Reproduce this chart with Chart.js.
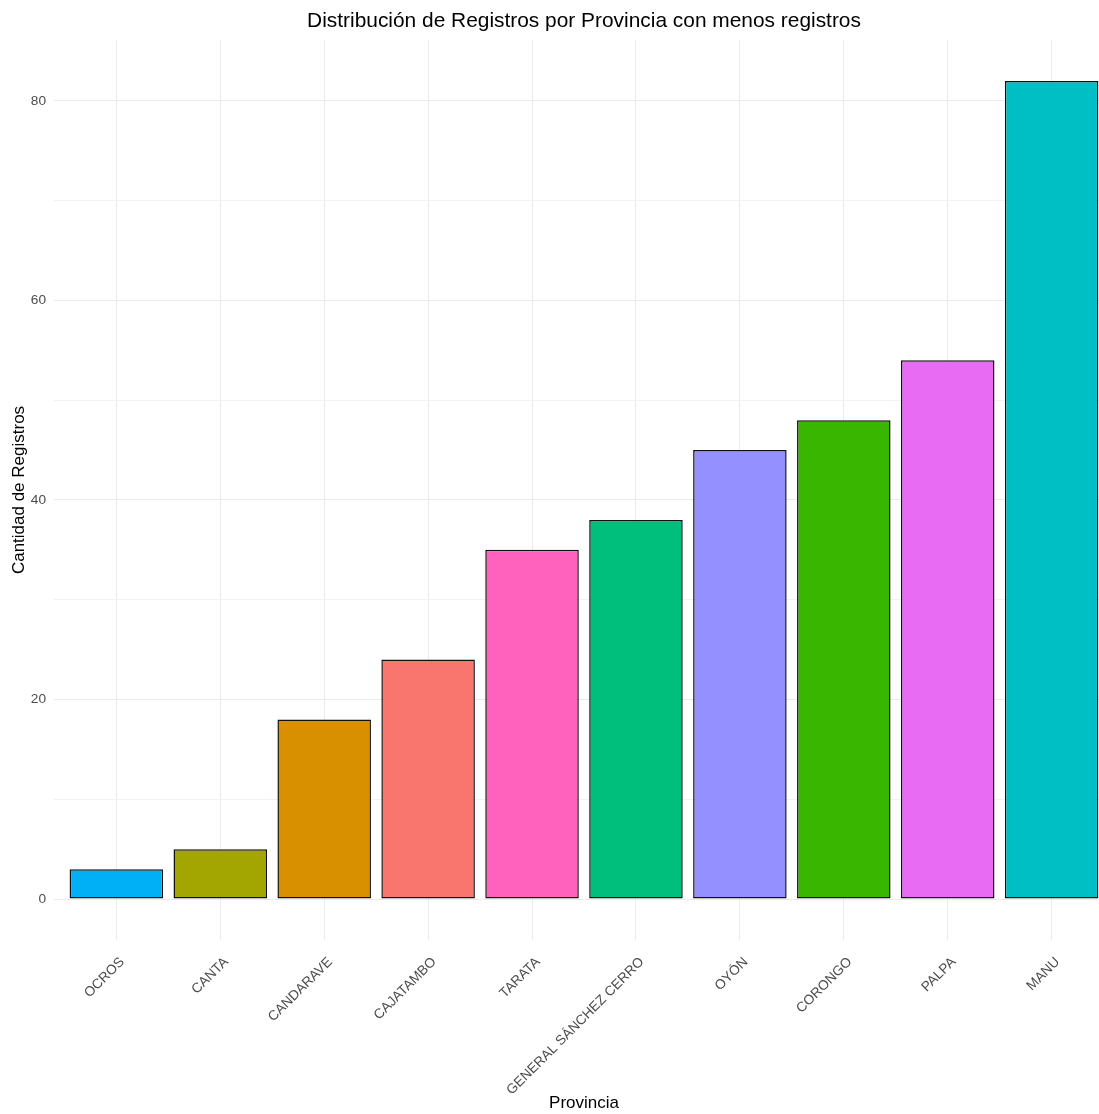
<!DOCTYPE html>
<html>
<head>
<meta charset="utf-8">
<script src="https://cdn.jsdelivr.net/npm/chart.js@4.4.1/dist/chart.umd.min.js"></script>
<style>
  html, body { margin: 0; padding: 0; background: #ffffff; overflow: hidden; }
  #wrap { width: 1114px; height: 1114px; }
</style>
</head>
<body>
<div id="wrap"><canvas id="c" width="1114" height="1114"></canvas></div>
<script>
const chartTitle = "Distribución de Registros por Provincia con menos registros";
const xTitle = "Provincia";
const yTitle = "Cantidad de Registros";
const categories = ["OCROS", "CANTA", "CANDARAVE", "CAJATAMBO", "TARATA", "GENERAL SÁNCHEZ CERRO", "OYÓN", "CORONGO", "PALPA", "MANU"];
const counts = [3, 5, 18, 24, 35, 38, 45, 48, 54, 82];
const barColors = ["#00B0F6", "#A3A500", "#D89000", "#F8766D", "#FF62BC", "#00BF7D", "#9590FF", "#39B600", "#E76BF3", "#00BFC4"];
const yTicks = [0, 10, 20, 30, 40, 50, 60, 70, 80];
const yLabelTicks = [0, 20, 40, 60, 80];

const FONT = "'Liberation Sans', Arial, sans-serif";

const titlePlugin = {
  id: 'panelTitle',
  afterDraw(chart) {
    const ctx = chart.ctx;
    const a = chart.chartArea;
    ctx.save();
    ctx.font = "20.9px " + FONT;
    ctx.fillStyle = "#000000";
    ctx.textAlign = "center";
    ctx.textBaseline = "middle";
    ctx.fillText(chartTitle, (a.left + a.right) / 2, 21);
    ctx.restore();
  }
};

new Chart(document.getElementById('c'), {
  type: 'bar',
  data: {
    datasets: [{
      data: counts.map((v, i) => ({ x: i, y: v })),
      backgroundColor: barColors,
      borderColor: "#111111",
      borderWidth: 1.5,
      borderSkipped: false,
      barPercentage: 0.9,
      categoryPercentage: 1.0
    }]
  },
  options: {
    responsive: false,
    animation: false,
    devicePixelRatio: 1,
    layout: { padding: { top: 40, left: 0, right: 0, bottom: 0 } },
    plugins: { legend: { display: false }, tooltip: { enabled: false }, title: { display: false } },
    scales: {
      x: {
        type: 'linear',
        offset: false,
        min: -0.6,
        max: categories.length - 1 + 0.6,
        afterBuildTicks: s => { s.ticks = categories.map((_, i) => ({ value: i })); },
        afterFit: s => { s.height = 174; },
        border: { display: false },
        grid: { offset: false, color: "#EBEBEB", lineWidth: 1, drawTicks: false },
        ticks: {
          autoSkip: false,
          minRotation: 45,
          maxRotation: 45,
          padding: 14,
          labelOffset: 6,
          color: "#4D4D4D",
          font: { family: FONT, size: 13.7 },
          callback: v => categories[v]
        },
        title: {
          display: true,
          text: xTitle,
          color: "#000000",
          font: { family: FONT, size: 17 },
          padding: { top: 0, bottom: 0 }
        }
      },
      y: {
        min: -4.1,
        max: 86.1,
        afterBuildTicks: s => { s.ticks = yTicks.map(v => ({ value: v })); },
        afterFit: s => { s.width = 54; },
        border: { display: false },
        grid: {
          drawTicks: false,
          color: ctx => (ctx.tick && yLabelTicks.includes(ctx.tick.value)) ? "#EBEBEB" : "#F2F2F2",
          lineWidth: 1
        },
        ticks: {
          padding: 8,
          color: "#4D4D4D",
          font: { family: FONT, size: 13.7 },
          callback: v => yLabelTicks.includes(v) ? String(v) : ""
        },
        title: {
          display: true,
          text: yTitle,
          color: "#000000",
          font: { family: FONT, size: 17 },
          padding: { top: 9, bottom: 0 }
        }
      }
    }
  },
  plugins: [titlePlugin]
});
</script>
</body>
</html>
